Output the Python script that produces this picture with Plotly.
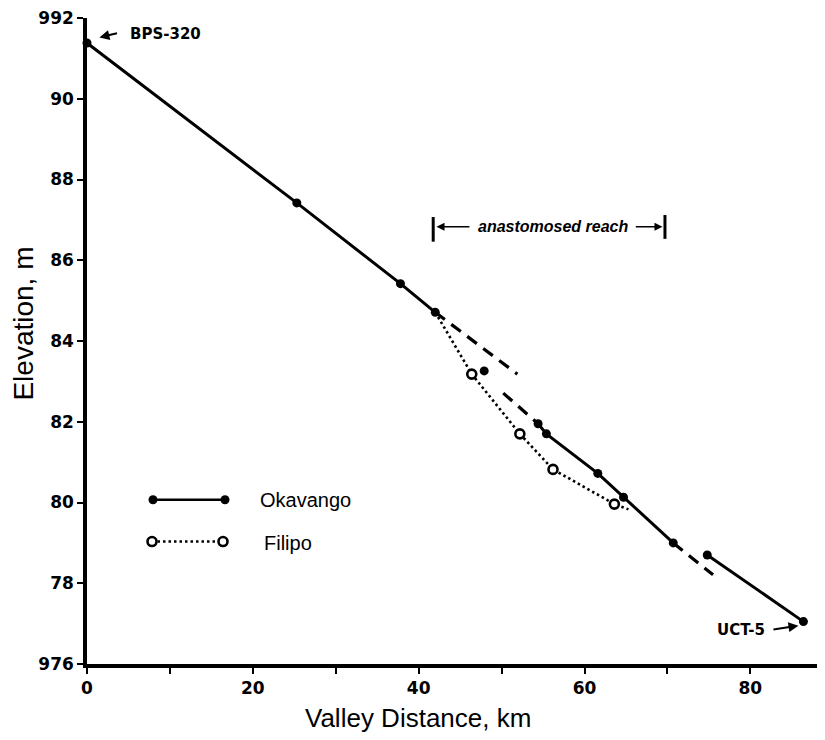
import plotly.graph_objects as go

# ---------------- data ----------------
OKA_KM = [0.0, 25.3, 37.8, 42.0, 47.9, 54.4, 55.4, 61.6, 64.7, 70.7, 74.8, 86.4]
OKA_ELEV = [991.38, 987.42, 985.42, 984.71, 983.26, 981.95, 981.70, 980.72,
            980.13, 979.00, 978.70, 977.05]
# index ranges of Okavango points joined by solid lines
OKA_SOLID_SEGMENTS = [(0, 3), (5, 9), (10, 11)]
# dashed projections of the Okavango profile
DASH_A_KM = [42.0, 51.9]
DASH_A_ELEV = [984.71, 983.18]
DASH_B_KM = [50.2, 54.4]
DASH_B_ELEV = [982.71, 981.95]
DASH_C_KM = [70.7, 75.5]
DASH_C_ELEV = [979.00, 978.21]

FIL_KM = [46.4, 52.2, 56.2, 63.6]
FIL_ELEV = [983.18, 981.70, 980.82, 979.96]
FIL_PATH_KM = [42.0, 46.4, 52.2, 56.2, 63.6, 65.3]
FIL_PATH_ELEV = [984.71, 983.18, 981.70, 980.82, 979.96, 979.83]

REACH_KM = [41.75, 69.7]

Y_TICK_VALS = [976, 978, 980, 982, 984, 986, 988, 990, 992]
Y_TICK_TEXT = ["976", "78", "80", "82", "84", "86", "88", "90", "992"]
X_TICK_VALS = [0, 10, 20, 30, 40, 50, 60, 70, 80]
X_TICK_TEXT = ["0", "", "20", "", "40", "", "60", "", "80"]

# ---------------- styles ----------------
INK = "black"
SOLID_W = 3
TICKFONT = dict(family="DejaVu Sans", size=17, color=INK, weight="bold")
LABFONT = dict(family="DejaVu Sans", size=15, color=INK, weight="bold")

# plot area on screen (page has an 8px body margin)
PL, PR, PT, PB = 87, 825, 15, 664


def px_to_paper(sx, sy):
    return (sx - PL) / (PR - PL), (PB - sy) / (PB - PT)


fig = go.Figure()

# Okavango solid reaches
for i0, i1 in OKA_SOLID_SEGMENTS:
    fig.add_trace(go.Scatter(x=OKA_KM[i0:i1 + 1], y=OKA_ELEV[i0:i1 + 1], mode="lines",
                             line=dict(color=INK, width=SOLID_W), hoverinfo="skip"))
# dashed projections
for xs, ys in [(DASH_A_KM, DASH_A_ELEV), (DASH_B_KM, DASH_B_ELEV), (DASH_C_KM, DASH_C_ELEV)]:
    fig.add_trace(go.Scatter(x=xs, y=ys, mode="lines",
                             line=dict(color=INK, width=3.2, dash="12px,8px"), hoverinfo="skip"))
# Filipo dotted path
fig.add_trace(go.Scatter(x=FIL_PATH_KM, y=FIL_PATH_ELEV, mode="lines",
                         line=dict(color=INK, width=2.6, dash="2.5px,3px"), hoverinfo="skip"))
# markers
fig.add_trace(go.Scatter(x=OKA_KM, y=OKA_ELEV, mode="markers", cliponaxis=False,
                         marker=dict(size=9, color=INK), name="Okavango"))
fig.add_trace(go.Scatter(x=FIL_KM, y=FIL_ELEV, mode="markers", cliponaxis=False,
                         marker=dict(size=9, color="white", line=dict(color=INK, width=2.6)),
                         name="Filipo"))

# ---------------- hand-drawn legend (pixel overlay axes) ----------------
fig.add_trace(go.Scatter(x=[153, 225], y=[499, 499], xaxis="x2", yaxis="y2",
                         mode="lines+markers", line=dict(color=INK, width=2.6),
                         marker=dict(size=9, color=INK), hoverinfo="skip", cliponaxis=False))
fig.add_trace(go.Scatter(x=[152, 223], y=[541, 541], xaxis="x2", yaxis="y2",
                         mode="lines", line=dict(color=INK, width=2.4, dash="2.5px,3px"),
                         hoverinfo="skip", cliponaxis=False))
fig.add_trace(go.Scatter(x=[152, 223], y=[541, 541], xaxis="x2", yaxis="y2",
                         mode="markers",
                         marker=dict(size=9, color="white", line=dict(color=INK, width=2.6)),
                         hoverinfo="skip", cliponaxis=False))

xt_x, xt_y = px_to_paper(418, 718)
yt_x, yt_y = px_to_paper(24, 322)

annotations = [
    dict(x=258, y=499, xref="x2", yref="y2", text="Okavango", showarrow=False,
         xanchor="left", yanchor="middle",
         font=dict(family="Liberation Sans", size=20, color=INK)),
    dict(x=262, y=542, xref="x2", yref="y2", text="Filipo", showarrow=False,
         xanchor="left", yanchor="middle",
         font=dict(family="Liberation Sans", size=20, color=INK)),
    # axis titles
    dict(x=xt_x, y=xt_y, xref="paper", yref="paper", text="Valley Distance, km",
         showarrow=False, xanchor="center", yanchor="middle",
         font=dict(family="Liberation Sans", size=26, color=INK)),
    dict(x=yt_x, y=yt_y, xref="paper", yref="paper", text="Elevation, m", showarrow=False,
         textangle=-90, xanchor="center", yanchor="middle",
         font=dict(family="Liberation Sans", size=28, color=INK)),
    # station labels
    dict(x=4.95, y=991.6, xref="x", yref="y", text="BPS-320", showarrow=False,
         xanchor="left", yanchor="middle", font=LABFONT),
    dict(x=1.5, y=991.52, ax=3.8, ay=991.63, xref="x", yref="y", axref="x", ayref="y",
         text="", showarrow=True, arrowhead=2, arrowsize=1, arrowwidth=2, arrowcolor=INK),
    dict(x=82.0, y=976.85, xref="x", yref="y", text="UCT-5", showarrow=False,
         xanchor="right", yanchor="middle", font=LABFONT),
    dict(x=85.8, y=976.95, ax=82.6, ay=976.85, xref="x", yref="y", axref="x", ayref="y",
         text="", showarrow=True, arrowhead=2, arrowsize=1, arrowwidth=2, arrowcolor=INK),
    # anastomosed reach bracket
    dict(x=(REACH_KM[0] + REACH_KM[1]) / 2 + 0.5, y=986.83, xref="x", yref="y",
         text="<i>anastomosed reach</i>", showarrow=False, xanchor="center", yanchor="middle",
         font=dict(family="Liberation Sans", size=16, color=INK, weight="bold")),
    dict(x=REACH_KM[0] + 0.4, y=986.83, ax=46.3, ay=986.83, xref="x", yref="y",
         axref="x", ayref="y", text="", showarrow=True, arrowhead=2, arrowsize=1,
         arrowwidth=1.6, arrowcolor=INK),
    dict(x=REACH_KM[1] - 0.3, y=986.83, ax=66.0, ay=986.83, xref="x", yref="y",
         axref="x", ayref="y", text="", showarrow=True, arrowhead=2, arrowsize=1,
         arrowwidth=1.6, arrowcolor=INK),
]

shapes = [
    dict(type="line", xref="x", yref="y", x0=REACH_KM[0], x1=REACH_KM[0],
         y0=986.46, y1=987.07, line=dict(color=INK, width=3)),
    dict(type="line", xref="x", yref="y", x0=REACH_KM[1], x1=REACH_KM[1],
         y0=986.53, y1=987.12, line=dict(color=INK, width=3)),
]

axis_common = dict(showline=True, linewidth=3.5, linecolor=INK, ticks="outside",
                   ticklen=6, tickwidth=2, tickcolor=INK, showgrid=False, zeroline=False,
                   tickfont=TICKFONT, mirror=False, fixedrange=True,
                   ticklabeloverflow="allow")

FIG_W, FIG_H = 817, 732
fig.update_layout(
    width=FIG_W, height=FIG_H,
    margin=dict(l=PL - 8, r=FIG_W - (PR - 8), t=PT - 8, b=FIG_H - (PB - 8), pad=0),
    paper_bgcolor="white", plot_bgcolor="white",
    showlegend=False,
    xaxis=dict(range=[0, 89.0], tickvals=X_TICK_VALS, ticktext=X_TICK_TEXT, **axis_common),
    yaxis=dict(range=[976, 992], tickvals=Y_TICK_VALS, ticktext=Y_TICK_TEXT, **axis_common),
    xaxis2=dict(range=[PL, PR], overlaying="x", visible=False, fixedrange=True),
    yaxis2=dict(range=[PB, PT], overlaying="y", visible=False, fixedrange=True),
    annotations=annotations,
    shapes=shapes,
)

fig.write_html("out.html")
